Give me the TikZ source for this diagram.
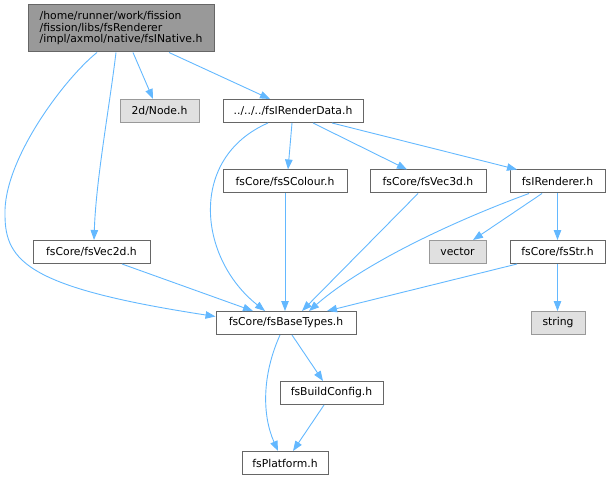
\documentclass[tikz,border=0pt]{standalone}
\usepackage{fontspec}
\setmainfont{DejaVu Sans}
\usetikzlibrary{arrows.meta}
\definecolor{edgeblue}{HTML}{63B8FF}
\definecolor{rootfill}{HTML}{999999}
\definecolor{darkborder}{HTML}{666666}
\definecolor{grayfill}{HTML}{E0E0E0}
\definecolor{grayborder}{HTML}{999999}
\tikzset{
  filebox/.style={draw=darkborder, fill=white, line width=1pt, inner sep=0pt,
    minimum height=23pt, font=\fontsize{10.8}{12}\selectfont, text=black},
  rootbox/.style={filebox, fill=rootfill, minimum height=47pt, align=left},
  sysbox/.style={filebox, draw=grayborder, fill=grayfill},
  dep/.style={draw=edgeblue, line width=0.9pt, -{Triangle[length=10pt,width=7.5pt]}}
}
\begin{document}
\begin{tikzpicture}[x=1pt,y=-1pt]
\useasboundingbox (0,0) rectangle (610,481);
% nodes
\node[rootbox, minimum width=186pt] (root) at (121,28.5)
  {/home/runner/work/fission\\[-0.5pt]/fission/libs/fsRenderer\\[-0.5pt]/impl/axmol/native/fsINative.h};
\node[sysbox, minimum width=79pt] (node2d) at (159.5,111) {2d/Node.h};
\node[filebox, minimum width=140pt] (rdata) at (293,111) {../../../fsIRenderData.h};
\node[filebox, minimum width=124pt] (scolour) at (285,181.5) {fsCore/fsSColour.h};
\node[filebox, minimum width=116pt] (vec3d) at (428,181.5) {fsCore/fsVec3d.h};
\node[filebox, minimum width=95pt] (irend) at (557.5,181.5) {fsIRenderer.h};
\node[filebox, minimum width=117pt] (vec2d) at (91.5,252) {fsCore/fsVec2d.h};
\node[sysbox, minimum width=57pt] (vector) at (457.5,252) {vector};
\node[filebox, minimum width=95pt] (fsstr) at (557.5,252) {fsCore/fsStr.h};
\node[filebox, minimum width=140pt] (base) at (286,323) {fsCore/fsBaseTypes.h};
\node[sysbox, minimum width=54pt] (strng) at (558,323) {string};
\node[filebox, minimum width=103pt] (buildcfg) at (331.5,393) {fsBuildConfig.h};
\node[filebox, minimum width=86pt] (platform) at (285,463) {fsPlatform.h};
% edges
\draw[dep] ([xshift=12pt]root.south) -- ([xshift=-6.5pt]node2d.north);
\draw[dep] ([xshift=48pt]root.south) -- ([xshift=-23pt]rdata.north);
\draw[dep] ([xshift=-5pt]root.south) .. controls (109,110) and (96,180) .. ([xshift=2.5pt]vec2d.north);
\draw[dep] ([xshift=-24pt]root.south) .. controls (65,78) and (3,160) .. (5,215)
  .. controls (5,262) and (30,288) .. ([yshift=6.5pt]base.west);
\draw[dep] ([xshift=-1pt]rdata.south) -- ([xshift=3pt]scolour.north);
\draw[dep] ([xshift=20pt]rdata.south) -- ([xshift=-21pt]vec3d.north);
\draw[dep] ([xshift=39pt]rdata.south) -- ([xshift=-40.5pt]irend.north);
\draw[dep] ([xshift=-25pt]rdata.south) .. controls (188,158) and (198,258) .. ([xshift=-21pt]base.north);
\draw[dep] (scolour.south) -- (scolour.south |- base.north);
\draw[dep] ([xshift=-10pt]vec3d.south) -- ([xshift=16pt]base.north);
\draw[dep] ([xshift=-28.5pt]irend.south) .. controls (470,215) and (370,258) .. ([xshift=23pt]base.north);
\draw[dep] ([xshift=-15.5pt]irend.south) -- ([xshift=15.5pt]vector.north);
\draw[dep] (irend.south) -- (fsstr.north);
\draw[dep] ([xshift=-40.5pt]fsstr.south) -- ([xshift=41pt]base.north);
\draw[dep] (fsstr.south) -- (fsstr.south |- strng.north);
\draw[dep] ([xshift=30.5pt]vec2d.south) -- ([xshift=-33pt]base.north);
\draw[dep] ([xshift=6pt]base.south) -- ([xshift=-8.5pt]buildcfg.north);
\draw[dep] ([xshift=-6pt]base.south) .. controls (262,375) and (262,415) .. ([xshift=-7pt]platform.north);
\draw[dep] ([xshift=-7.5pt]buildcfg.south) -- ([xshift=8pt]platform.north);
\end{tikzpicture}
\end{document}
